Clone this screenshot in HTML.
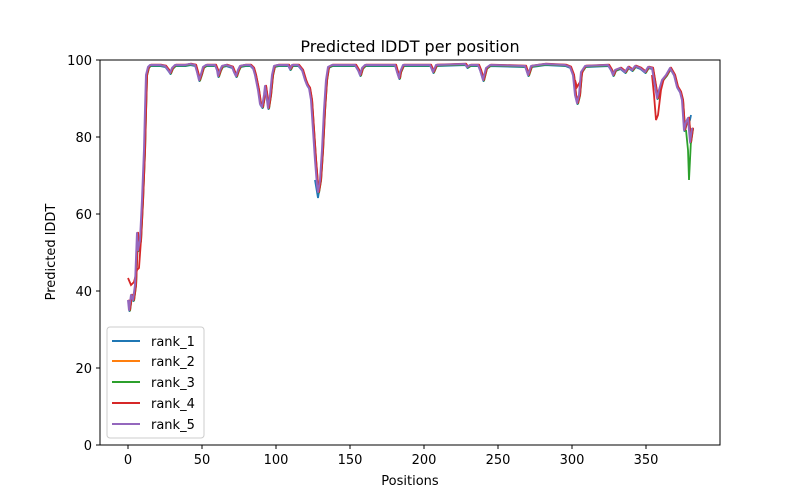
<!DOCTYPE html>
<html><head><meta charset="utf-8"><style>body{margin:0;background:#fff}svg{display:block}text{font-family:"DejaVu Sans","Liberation Sans",sans-serif;fill:#000}</style></head><body>
<svg width="800" height="500" viewBox="0 0 800 500" xmlns="http://www.w3.org/2000/svg">
<defs>
<polyline id="c" fill="none" stroke-width="2" stroke-linejoin="round" points="128,300 129,310 131,295 133,300 135,285 137,233 138,250 140,240 142,200 144,150 145,110 146,75 148,67 150,65 160,65 165,66 168,70 170,73 172,68 175,65 185,65 190,64 195,65 197,72 199,80 201,74 203,67 206,65 215,65 217,70 218,76 220,70 222,66 226,65 232,67 234,72 236,76 238,70 240,66 245,65 250,65 253,68 255,75 258,90 260,104 262,107 264,95 265,86 267,100 268,108 270,95 272,75 274,66 278,65 288,65 290,69 292,65 298,65 302,70 305,80 307,85 309,88 311,100 313,130 315,160 317,185 318,192 320,180 322,150 324,110 326,80 328,67 332,65 355,65 358,70 360,75 362,68 365,65 395,65 397,72 399,78 400,72 403,65 430,65 433,72 436,65 465,64 467,67 470,65 478,65 480,70 483,80 486,68 490,65 525,66 528,75 531,66 545,64 565,65 570,67 573,75 575,95 577,103 579,95 581,72 585,66 608,65 611,70 613,75 615,70 620,68 625,72 628,67 632,70 635,66 640,68 645,72 648,67 652,68 654,80 657,98 659,90 662,80 666,75 670,68 674,75 677,87 680,92 682,100 684,130 686,122 688,118 690,142 692,128"/>
</defs>
<g transform="translate(0.5,1)" stroke="#1f77b4"><use href="#c"/></g>
<polyline points="315,180 318,198 320,185" fill="none" stroke="#1f77b4" stroke-width="1.8"/>
<polyline points="688,125 690,120 691,115" fill="none" stroke="#1f77b4" stroke-width="1.8"/>
<g transform="translate(0.8,0)" stroke="#ff7f0e"><use href="#c"/></g>
<g transform="translate(1,0.5)" stroke="#2ca02c"><use href="#c"/></g>
<polyline points="686,130 688,150 689,180 690,160 691,140" fill="none" stroke="#2ca02c" stroke-width="1.8"/>
<g transform="translate(1,-0.3)" stroke="#d62728"><use href="#c"/></g>
<polyline points="575,80 577,87 580,82 583,70" fill="none" stroke="#d62728" stroke-width="1.8"/>
<polyline points="652,75 654,95 656,120 658,115 661,90 664,78" fill="none" stroke="#d62728" stroke-width="1.8"/>
<polyline points="128,278 131,285 134,282 137,270 139,268 141,240" fill="none" stroke="#d62728" stroke-width="1.8"/>
<g stroke="#9467bd"><use href="#c"/></g>
<rect x="100" y="60" width="620" height="385" fill="none" stroke="#000" stroke-width="1"/>
<g stroke="#000">
<line x1="128" y1="445" x2="128" y2="449"/><line x1="202" y1="445" x2="202" y2="449"/><line x1="276" y1="445" x2="276" y2="449"/><line x1="350" y1="445" x2="350" y2="449"/><line x1="424" y1="445" x2="424" y2="449"/><line x1="498" y1="445" x2="498" y2="449"/><line x1="572" y1="445" x2="572" y2="449"/><line x1="646" y1="445" x2="646" y2="449"/>
<line x1="96" y1="445" x2="100" y2="445"/><line x1="96" y1="368" x2="100" y2="368"/><line x1="96" y1="291" x2="100" y2="291"/><line x1="96" y1="214" x2="100" y2="214"/><line x1="96" y1="137" x2="100" y2="137"/><line x1="96" y1="60" x2="100" y2="60"/>
</g>
<g font-size="13" text-anchor="middle">
<text x="128" y="464">0</text><text x="202" y="464">50</text><text x="276" y="464">100</text><text x="350" y="464">150</text><text x="424" y="464">200</text><text x="498" y="464">250</text><text x="572" y="464">300</text><text x="646" y="464">350</text>
<text x="410" y="485">Positions</text>
</g>
<g font-size="13" text-anchor="end">
<text x="92" y="450">0</text><text x="92" y="373">20</text><text x="92" y="296">40</text><text x="92" y="219">60</text><text x="92" y="142">80</text><text x="92" y="65">100</text>
</g>
<text transform="translate(55,252) rotate(-90)" font-size="13" text-anchor="middle">Predicted lDDT</text>
<text x="410" y="52" font-size="16" text-anchor="middle">Predicted lDDT per position</text>
<rect x="107" y="327" width="97" height="111" rx="3" fill="#fff" fill-opacity="0.8" stroke="#ccc"/>
<g stroke-width="2">
<line x1="112" y1="341" x2="140" y2="341" stroke="#1f77b4"/>
<line x1="112" y1="361" x2="140" y2="361" stroke="#ff7f0e"/>
<line x1="112" y1="382" x2="140" y2="382" stroke="#2ca02c"/>
<line x1="112" y1="403" x2="140" y2="403" stroke="#d62728"/>
<line x1="112" y1="424" x2="140" y2="424" stroke="#9467bd"/>
</g>
<g font-size="13">
<text x="151" y="346">rank_1</text><text x="151" y="366">rank_2</text><text x="151" y="387">rank_3</text><text x="151" y="408">rank_4</text><text x="151" y="429">rank_5</text>
</g>
</svg>
</body></html>
